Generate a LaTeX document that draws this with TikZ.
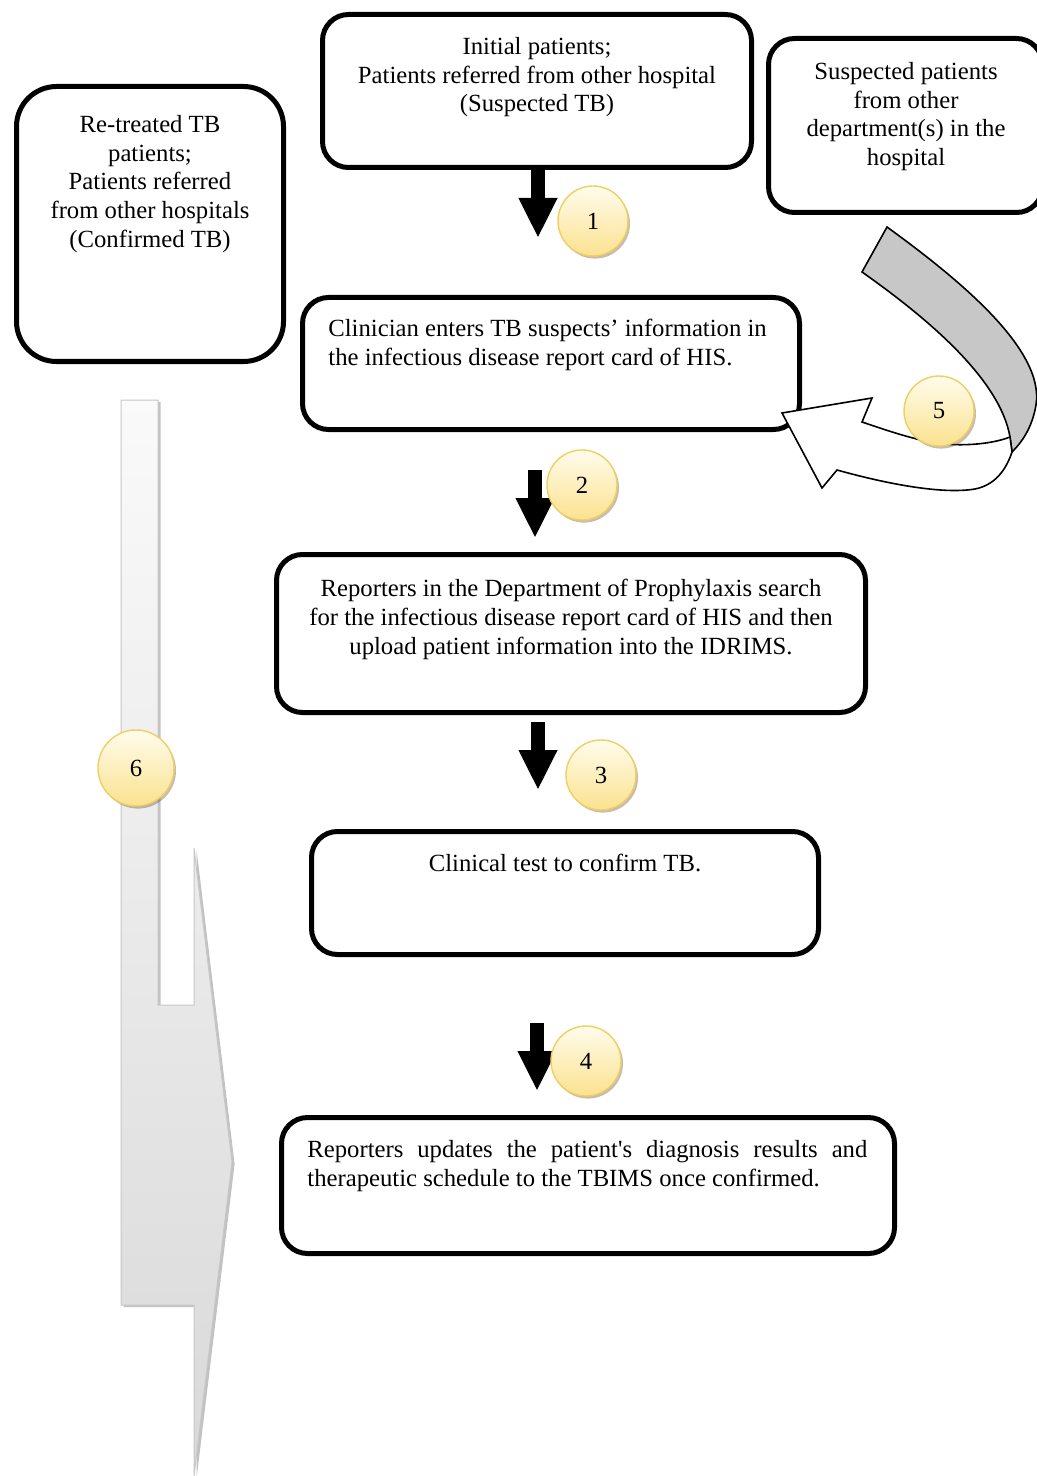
\documentclass[tikz,border=0pt]{standalone}
\usepackage{fontspec}
\setmainfont{Liberation Serif}
\usetikzlibrary{arrows.meta,shadows}
\definecolor{badgetop}{HTML}{FFFCEC}
\definecolor{badgebot}{HTML}{FBE28F}
\definecolor{badgeline}{HTML}{EFCF60}
\begin{document}
\begin{tikzpicture}[x=0.5pt,y=-0.5pt,font=\fontsize{12.35}{14.35}\selectfont,
  stage/.style={draw,line width=2.5pt,rounded corners=13pt,inner sep=0pt},
  txt/.style={inner sep=0pt,anchor=north,align=center},
  badge/.style={circle,draw=badgeline,line width=0.7pt,top color=badgetop,bottom color=badgebot,
    minimum size=35pt,inner sep=0pt,
    drop shadow={shadow xshift=1pt,shadow yshift=-1.3pt,fill=black!50!brown,opacity=0.35}},
  blockarrow/.style={line width=7pt,-{Triangle[width=18pt,length=20pt]}}]
\useasboundingbox (0,0) rectangle (1037,1476);
\clip (0,0) rectangle (1037,1476);
% boxes
\node[stage,minimum width=214.5pt,minimum height=76.5pt] (initial) at (537,91) {};
\node[stage,minimum width=137pt,minimum height=87pt] (suspect) at (905.5,125.5) {};
\node[stage,rounded corners=20pt,minimum width=133.5pt,minimum height=137.5pt] (retreat) at (150,224) {};
\node[stage,minimum width=248.5pt,minimum height=66pt] (clinician) at (551,363.5) {};
\node[stage,minimum width=294.5pt,minimum height=79pt] (search) at (571,633.5) {};
\node[stage,minimum width=253.5pt,minimum height=61.5pt] (test) at (565,893) {};
\node[stage,minimum width=306.5pt,minimum height=68pt] (update) at (588,1185.5) {};
% texts
\node[txt] (initial-t) at (537,37) {Initial patients;\\Patients referred from other hospital\\(Suspected TB)};
\node[txt] (suspect-t) at (906,62) {Suspected patients\\from other\\department(s) in the\\hospital};
\node[txt] (retreat-t) at (150,115) {Re-treated TB\\patients;\\Patients referred\\from other hospitals\\(Confirmed TB)};
\node[txt,anchor=north west,align=left] (clinician-t) at (328,319) {Clinician enters TB suspects’ information in\\the infectious disease report card of HIS.};
\node[txt] (search-t) at (571,579) {Reporters in the Department of Prophylaxis search\\for the infectious disease report card of HIS and then\\upload patient information into the IDRIMS.};
\node[txt] (test-t) at (565,854) {Clinical test to confirm TB.};
\node[txt,anchor=north west,align=justify,text width=280pt] (update-t) at (307,1140) {Reporters updates the patient\textquotesingle s diagnosis results and\linebreak therapeutic schedule to the TBIMS once confirmed.};
% down arrows
\foreach \i/\x/\ya/\yb in {1/538/170/238,2/535/470/538,3/538/722/790,4/537/1023/1091}{
  \coordinate (s\i) at (\x,\ya);
  \coordinate (e\i) at (\x,\yb);
  \draw[blockarrow] (s\i) -- (e\i);
}
% curved arrow back into the clinician box
\draw[line width=0.8pt,fill=black!22] (887,227) .. controls (960,280) and (1045,350) .. (1036,405)
  .. controls (1032,428) and (1022,442) .. (1012,452) -- (1010,437)
  .. controls (1000,380) and (930,320) .. (862,272) -- cycle;
\draw[line width=0.8pt,fill=white] (1010,437) .. controls (990,445) and (955,447) .. (930,442)
  .. controls (905,437) and (880,428) .. (862,422) -- (872,398) -- (782,413) -- (822,488) -- (837,470)
  .. controls (880,482) and (940,495) .. (975,489) .. controls (995,485) and (1006,470) .. (1012,452) -- cycle;
% bent arrow on the left
\path[draw=black!22,line width=0.5pt,top color=black!2,bottom color=black!15,
  drop shadow={shadow xshift=1.3pt,shadow yshift=-1pt,fill=black!40,opacity=0.6}]
  (121,400) -- (158,400) -- (158,1005) -- (194,1005) -- (194,848) -- (232,1162)
  -- (194,1476) -- (194,1305) -- (121,1305) -- cycle;
% step numbers
\node[badge] (n1) at (593,221) {1};
\node[badge] (n2) at (582,485) {2};
\node[badge] (n3) at (601,775) {3};
\node[badge] (n4) at (586,1061) {4};
\node[badge] (n5) at (939,411) {5};
\node[badge,minimum size=38pt] (n6) at (136,768) {6};
\end{tikzpicture}
\end{document}
